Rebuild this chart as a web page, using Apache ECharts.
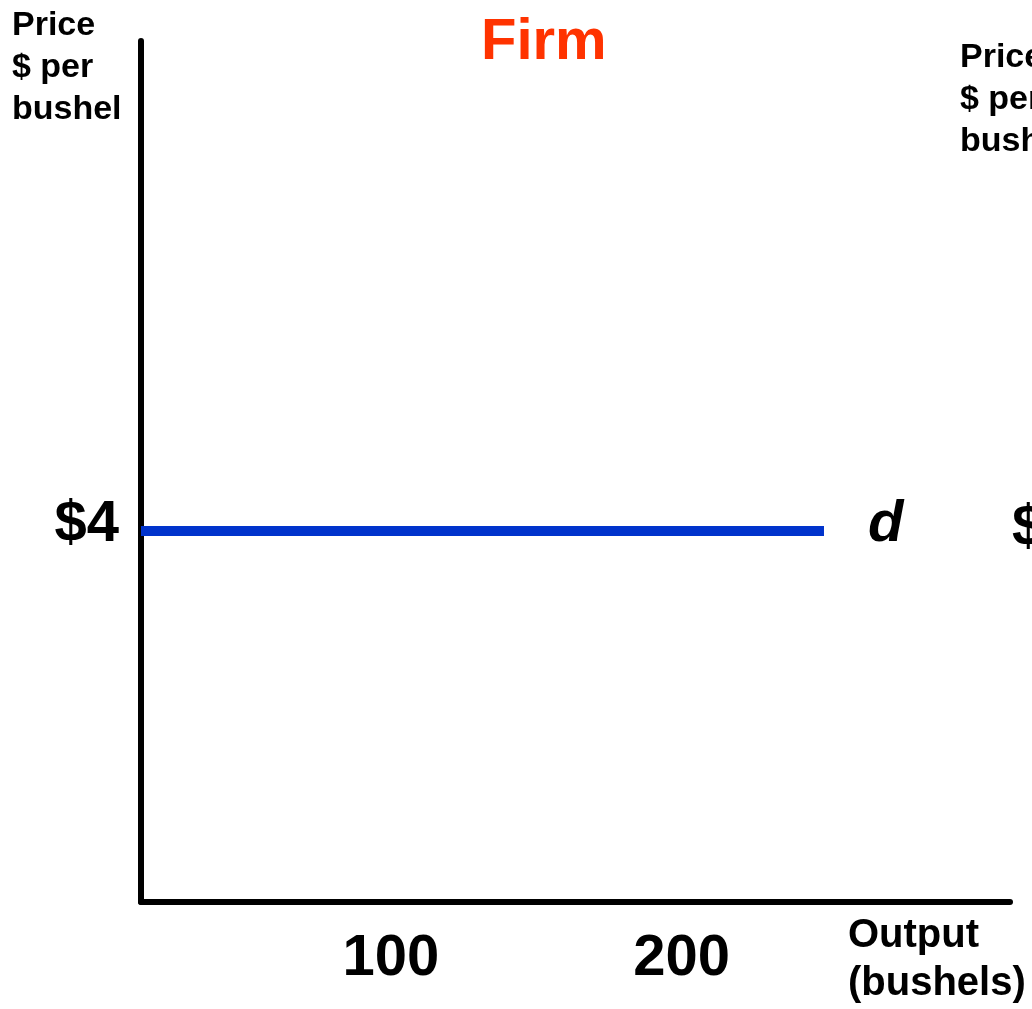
<!DOCTYPE html>
<html>
<head>
<meta charset="utf-8">
<title>Firm</title>
<script src="https://cdn.jsdelivr.net/npm/echarts@6/dist/echarts.min.js"></script>
<style>
  html, body { margin: 0; padding: 0; background: #fff; }
  #chart { width: 1032px; height: 1009px; }
</style>
</head>
<body>
<div id="chart"></div>
<script>
// data
var price = 4;
var demandQty = [14, 249];     // d line runs from the axis to here
var xTicks = [100, 200];
var yTicks = [4];
var xRange = [14, 313];
var yRange = [0, 9.28];

var font = 'Liberation Sans, Arial, sans-serif';

var myChart = echarts.init(document.getElementById('chart'));

var option = {
  backgroundColor: '#fff',
  animation: false,
  grid: { left: 141, top: 41, right: 22, bottom: 107 },
  xAxis: {
    type: 'value',
    min: xRange[0],
    max: xRange[1],
    splitLine: { show: false },
    axisTick: { show: false },
    axisLine: { lineStyle: { color: '#000', width: 6 } },
    axisLabel: {
      customValues: xTicks,
      margin: 28,
      color: '#000',
      fontFamily: font,
      fontWeight: 'bold',
      fontSize: 58
    }
  },
  yAxis: {
    type: 'value',
    min: yRange[0],
    max: yRange[1],
    splitLine: { show: false },
    axisTick: { show: false },
    axisLine: { lineStyle: { color: '#000', width: 6 } },
    axisLabel: {
      customValues: yTicks,
      formatter: function (v) { return '{p|$' + v + '}'; },
      margin: 22,
      rich: {
        p: {
          padding: [0, 0, 12, 0],
          color: '#000',
          fontFamily: font,
          fontWeight: 'bold',
          fontSize: 58
        }
      }
    }
  },
  series: [{
    type: 'line',
    showSymbol: false,
    data: [[demandQty[0], price], [demandQty[1], price]],
    lineStyle: { color: '#0033cc', width: 10, cap: 'butt' },
    endLabel: {
      show: true,
      formatter: 'd',
      offset: [36, -6],
      color: '#000',
      fontFamily: font,
      fontWeight: 'bold',
      fontStyle: 'italic',
      fontSize: 58
    }
  }],
  graphic: [
    {
      type: 'text', left: 481, top: 14,
      style: { text: 'Firm', fill: '#ff3300', font: 'bold 58px ' + font }
    },
    {
      type: 'text', left: 12, top: 5,
      style: { text: 'Price\n$ per\nbushel', fill: '#000', font: 'bold 34px ' + font, lineHeight: 42 }
    },
    {
      type: 'text', left: 960, top: 37,
      style: { text: 'Price\n$ per\nbushel', fill: '#000', font: 'bold 34px ' + font, lineHeight: 42 }
    },
    {
      type: 'text', left: 1012, top: 500,
      style: { text: '$4', fill: '#000', font: 'bold 58px ' + font }
    },
    {
      type: 'text', left: 848, top: 912,
      style: { text: 'Output\n(bushels)', fill: '#000', font: 'bold 40px ' + font, lineHeight: 48 }
    }
  ]
};

myChart.setOption(option);
</script>
</body>
</html>
